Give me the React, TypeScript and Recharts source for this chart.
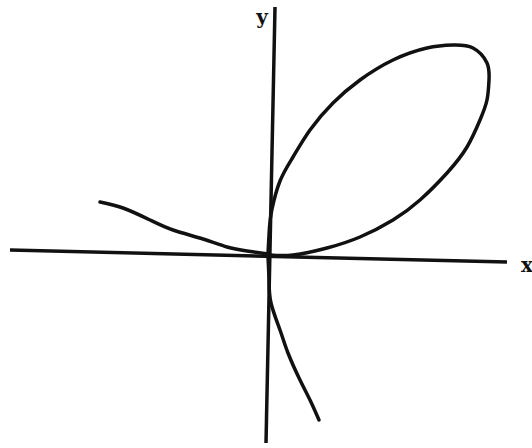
import { ComposedChart, Line, XAxis, YAxis, ReferenceLine, ReferenceDot } from 'recharts'

// curve, origin where the axes cross, 1 unit ~ 50px
const leftTail = [
  { x: -3.36, y: 1.04 },
  { x: -2.9, y: 0.92 },
  { x: -2.36, y: 0.68 },
  { x: -1.9, y: 0.48 },
  { x: -1.3, y: 0.3 },
  { x: -0.82, y: 0.14 },
  { x: -0.42, y: 0.06 },
  { x: 0, y: 0 },
]

const loop = [
  { x: 0, y: 0 },
  { x: 0.03, y: 0.54 },
  { x: 0.08, y: 0.9 },
  { x: 0.24, y: 1.46 },
  { x: 0.5, y: 1.94 },
  { x: 0.84, y: 2.48 },
  { x: 1.3, y: 3.02 },
  { x: 1.84, y: 3.48 },
  { x: 2.5, y: 3.88 },
  { x: 3.18, y: 4.12 },
  { x: 3.7, y: 4.18 },
  { x: 4.1, y: 4.12 },
  { x: 4.38, y: 3.82 },
  { x: 4.42, y: 3.48 },
  { x: 4.38, y: 3.08 },
  { x: 4.24, y: 2.68 },
  { x: 3.98, y: 2.14 },
  { x: 3.58, y: 1.62 },
  { x: 3.04, y: 1.08 },
  { x: 2.5, y: 0.68 },
  { x: 1.84, y: 0.34 },
  { x: 1.18, y: 0.12 },
  { x: 0.5, y: -0.02 },
  { x: 0.04, y: -0.02 },
]

const lowerTail = [
  { x: 0, y: -0.06 },
  { x: 0.02, y: -0.52 },
  { x: 0.06, y: -0.98 },
  { x: 0.24, y: -1.52 },
  { x: 0.4, y: -1.98 },
  { x: 0.64, y: -2.52 },
  { x: 0.84, y: -2.92 },
  { x: 1.02, y: -3.32 },
]

const xAxisEnds = [
  { x: -5.16, y: 0.08 },
  { x: 4.78, y: -0.16 },
]
const yAxisEnds = [
  { x: 0.14, y: 4.94 },
  { x: -0.04, y: -3.78 },
]

const INK = '#111'
const labelStyle = { fontFamily: 'DejaVu Serif', fontWeight: 'bold', fontSize: 20, fill: INK }

export default function App() {
  return (
    <div style={{ position: 'absolute', left: 0, top: 0, background: '#fff' }}>
      <ComposedChart width={532} height={448} margin={{ top: 0, right: 0, bottom: 0, left: 0 }}>
        <XAxis type="number" dataKey="x" domain={[-5.36, 5.28]} allowDataOverflow hide />
        <YAxis type="number" dataKey="y" domain={[-3.88, 5.08]} allowDataOverflow hide />
        <ReferenceLine segment={xAxisEnds} stroke={INK} strokeWidth={3.5} ifOverflow="visible" />
        <ReferenceLine segment={yAxisEnds} stroke={INK} strokeWidth={3.5} ifOverflow="visible" />
        <Line data={leftTail} dataKey="y" type="natural" stroke={INK} strokeWidth={3.5} strokeLinecap="round"
          dot={false} activeDot={false} isAnimationActive={false} />
        <Line data={loop} dataKey="y" type="natural" stroke={INK} strokeWidth={3.5} strokeLinecap="round"
          dot={false} activeDot={false} isAnimationActive={false} />
        <Line data={lowerTail} dataKey="y" type="natural" stroke={INK} strokeWidth={3.5} strokeLinecap="round"
          dot={false} activeDot={false} isAnimationActive={false} />
        <ReferenceDot x={-0.12} y={4.74} r={0} fill="none" stroke="none" ifOverflow="visible"
          label={{ value: 'y', position: 'center', style: labelStyle }} />
        <ReferenceDot x={5.18} y={-0.22} r={0} fill="none" stroke="none" ifOverflow="visible"
          label={{ value: 'x', position: 'center', style: labelStyle }} />
      </ComposedChart>
    </div>
  )
}
